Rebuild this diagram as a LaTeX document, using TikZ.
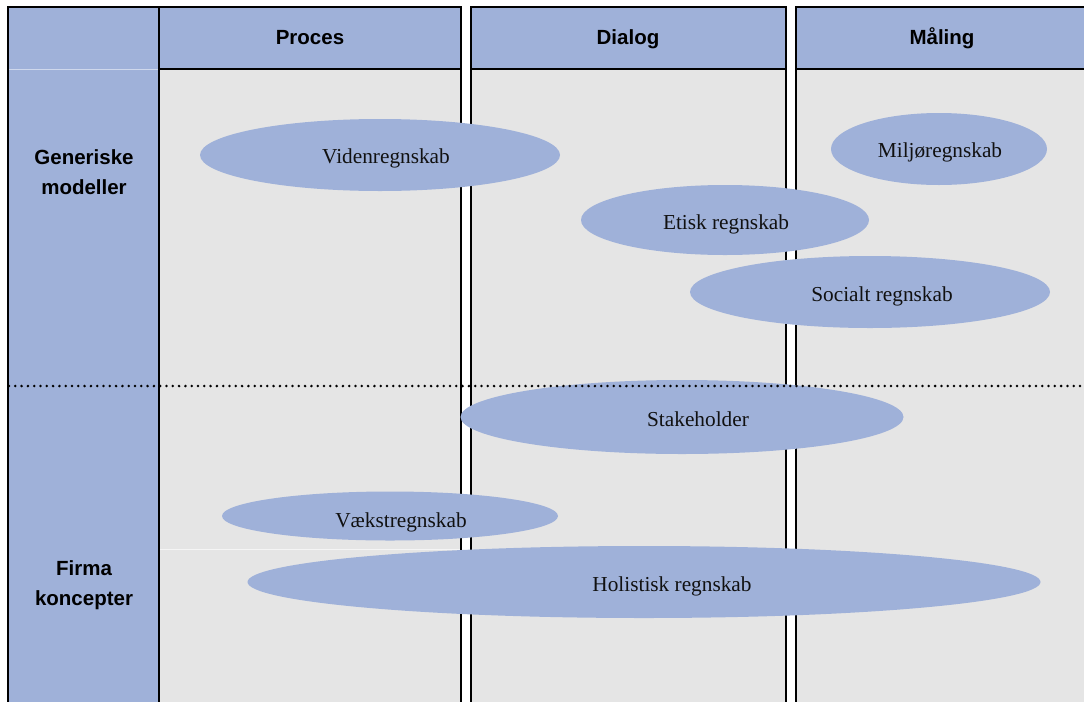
\documentclass[tikz,border=0pt]{standalone}
\usepackage{fontspec}
\setmainfont{Liberation Serif}
\newfontfamily\hdrfont{Liberation Sans}
\usetikzlibrary{shapes.geometric}
\definecolor{cellblue}{HTML}{9FB1D9}
\definecolor{cellgray}{HTML}{E5E5E5}
\definecolor{txtdark}{HTML}{111111}
\tikzset{
  blob/.style={ellipse, fill=cellblue, draw=none, inner sep=0pt},
  blobtext/.style={font=\fontsize{21.3}{25}\selectfont, text=txtdark, inner sep=0pt},
  hdr/.style={font=\hdrfont\bfseries\fontsize{20.5}{29.5}\selectfont, align=center, inner sep=0pt},
  gridline/.style={draw=black, line width=2pt},
  thinline/.style={draw=black, line width=1.2pt},
  dotline/.style={draw=black, line width=2.8pt, line cap=round, dash pattern=on 0pt off 6.3pt}
}
\begin{document}
\begin{tikzpicture}[x=1pt,y=-1pt]
\useasboundingbox (0,0) rectangle (1084,702);
\fill[white] (0,0) rectangle (1084,702);
% cells
\fill[cellblue] (8,7) rectangle (159,702);
\fill[cellblue] (159,7) rectangle (461,69);
\fill[cellblue] (471,7) rectangle (786,69);
\fill[cellblue] (796,7) rectangle (1084,69);
\fill[cellgray] (159,69) rectangle (461,702);
\fill[cellgray] (471,69) rectangle (786,702);
\fill[cellgray] (796,69) rectangle (1084,702);
% faint lines
\draw[white!50!cellblue, line width=0.8pt] (9,69) -- (158,69);
\draw[white!60!cellgray, line width=1pt] (160,549) -- (461,549);
% grid lines
\draw[gridline] (8,7) -- (8,702);
\draw[gridline] (159,7) -- (159,702);
\draw[gridline] (461,7) -- (461,702);
\draw[gridline] (471,7) -- (471,702);
\draw[gridline] (786,7) -- (786,702);
\draw[gridline] (796,7) -- (796,702);
\draw[gridline] (7,7) -- (462,7);
\draw[gridline] (470,7) -- (787,7);
\draw[gridline] (795,7) -- (1084,7);
\draw[thinline] (159,69) -- (461,69);
\draw[thinline] (471,69) -- (786,69);
\draw[thinline] (796,69) -- (1084,69);
% headers
\node[hdr, anchor=base] (hproc) at (310,44) {Proces};
\node[hdr, anchor=base] (hdial) at (628,44) {Dialog};
\node[hdr, anchor=base] (hmaal) at (942,44) {Måling};
\node[hdr] (rgen) at (84,172) {Generiske\\modeller};
\node[hdr] (rfirm) at (84,585) {Firma\\koncepter};
% ellipses
\node[blob, minimum width=360pt, minimum height=72pt] (viden) at (380,155) {};
\node[blob, minimum width=216pt, minimum height=72pt] (miljo) at (939,149) {};
\node[blob, minimum width=288pt, minimum height=70pt] (etisk) at (725,220) {};
\node[blob, minimum width=360pt, minimum height=72pt] (social) at (870,292) {};
\node[blob, minimum width=443pt, minimum height=74pt] (stake) at (682,417) {};
\node[blob, minimum width=336pt, minimum height=49pt] (vaekst) at (390,516) {};
\node[blob, minimum width=793pt, minimum height=72pt] (holist) at (644,582) {};
% ellipse texts
\node[blobtext] (tviden) at (386,158) {Videnregnskab};
\node[blobtext] (tmiljo) at (940,152) {Miljøregnskab};
\node[blobtext] (tetisk) at (726,224) {Etisk regnskab};
\node[blobtext] (tsocial) at (882,296) {Socialt regnskab};
\node[blobtext] (tstake) at (698,419) {Stakeholder};
\node[blobtext] (tvaekst) at (401,522) {Vækstregnskab};
\node[blobtext] (tholist) at (672,586) {Holistisk regnskab};
% dotted divider
\draw[dotline] (9,386) -- (1084,386);
\end{tikzpicture}
\end{document}
